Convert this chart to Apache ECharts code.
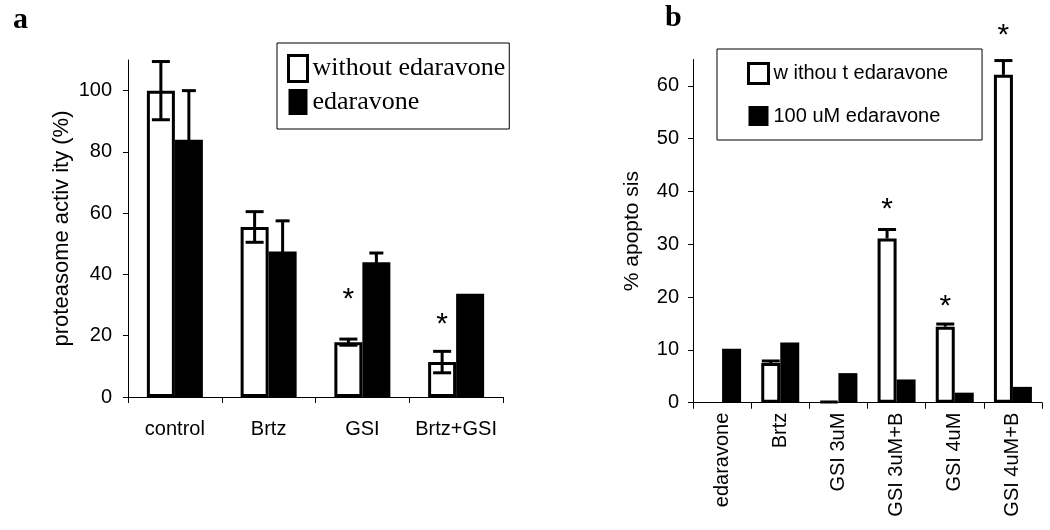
<!DOCTYPE html>
<html>
<head>
<meta charset="utf-8">
<script src="https://cdn.jsdelivr.net/npm/echarts@6/dist/echarts.min.js"></script>
<style>html,body{margin:0;padding:0;background:#fff;}#c{width:1050px;height:530px;}</style>
</head>
<body>
<div id="c"></div>
<script>
// ---------- Panel a data ----------
const catsA = ['control', 'Brtz', 'GSI', 'Brtz+GSI'];
const withoutA = [100, 55.5, 17.9, 11.4];
const withoutErrA = [9.5, 5, 1, 3.5];
const edaA = [84, 47.5, 44, 33.7];
const edaErrA = [16, 10, 3, 0];
const starsA = [null, null, 33.5, 25.3];
const yTicksA = [0, 20, 40, 60, 80, 100];

// ---------- Panel b data ----------
const catsB = ['edaravone', 'Brtz', 'GSI 3uM', 'GSI 3uM+B', 'GSI 4uM', 'GSI 4uM+B'];
const withoutB = [null, 7.5, 0.3, 31.1, 14.4, 62.1];
const withoutErrB = [0, 0.4, 0, 1.7, 0.5, 2.7];
const edaB = [10.2, 11.4, 5.6, 4.4, 1.9, 3.0];
const starsB = [null, null, null, 37.5, 19.2, 70.5];
const yTicksB = [0, 10, 20, 30, 40, 50, 60];

const SANS = "'Liberation Sans', Arial, sans-serif";
const SERIF = "'Liberation Serif', 'Times New Roman', serif";
const BW_A = 28, BW_B = 19;

function errData(vals, errs, side) {
  const out = [];
  vals.forEach((v, i) => { if (v != null && errs[i] > 0) out.push([i, v, errs[i], side]); });
  return out;
}
function starData(arr) {
  const out = [];
  arr.forEach((v, i) => { if (v != null) out.push([i, v]); });
  return out;
}
function errRender(bw, both, cap) {
  return function (params, api) {
    const i = api.value(0), v = api.value(1), e = api.value(2), side = api.value(3);
    const c = api.coord([i, v]);
    const x = c[0] + side * bw / 2;
    const top = api.coord([i, v + e])[1];
    const bot = both ? api.coord([i, v - e])[1] : c[1];
    const st = { stroke: '#000', lineWidth: 3 };
    const children = [
      { type: 'line', shape: { x1: x, y1: top, x2: x, y2: bot }, style: st },
      { type: 'line', shape: { x1: x - cap / 2, y1: top, x2: x + cap / 2, y2: top }, style: st }
    ];
    if (both) children.push({ type: 'line', shape: { x1: x - cap / 2, y1: bot, x2: x + cap / 2, y2: bot }, style: st });
    return { type: 'group', children: children };
  };
}
function starRender(bw) {
  return function (params, api) {
    const c = api.coord([api.value(0), api.value(1)]);
    return { type: 'text', x: c[0] - bw / 2, y: c[1] + 5,
      style: { text: '*', fontSize: 30, fontFamily: SANS, fill: '#000', align: 'center', verticalAlign: 'middle' } };
  };
}

const whiteStyle = { color: '#fff', borderColor: '#000', borderWidth: 3 };
const blackStyle = { color: '#000' };

const option = {
  animation: false,
  backgroundColor: '#fff',
  title: [
    { text: 'a', left: 8, top: 0, textStyle: { fontFamily: SERIF, fontWeight: 'bold', fontSize: 30, color: '#000' } },
    { text: 'b', left: 660, top: -2, textStyle: { fontFamily: SERIF, fontWeight: 'bold', fontSize: 30, color: '#000' } }
  ],
  legend: [
    {
      orient: 'vertical', left: 277, top: 43, padding: [11, 4, 14, 10], itemGap: 6,
      itemWidth: 19, itemHeight: 26, borderColor: '#000', borderWidth: 1,
      textStyle: { fontFamily: SERIF, fontSize: 26, color: '#000', lineHeight: 26 },
      data: [
        { name: 'without edaravone', icon: 'rect', itemStyle: whiteStyle },
        { name: 'edaravone', icon: 'rect', itemStyle: blackStyle }
      ]
    },
    {
      orient: 'vertical', left: 717, top: 49, padding: [13, 34, 14, 30], itemGap: 21,
      itemWidth: 20, itemHeight: 20, borderColor: '#000', borderWidth: 1,
      textStyle: { fontFamily: SANS, fontSize: 20, color: '#000' },
      data: [
        { name: 'w ithou t edaravone', icon: 'rect', itemStyle: whiteStyle },
        { name: '100 uM edaravone', icon: 'rect', itemStyle: blackStyle }
      ]
    }
  ],
  grid: [
    { left: 128, width: 375, top: 60, height: 337 },
    { left: 693, width: 349, top: 59.5, height: 343.2 }
  ],
  xAxis: [
    { gridIndex: 0, type: 'category', data: catsA,
      axisLine: { lineStyle: { color: '#000', width: 1 } },
      axisTick: { show: true, length: 6, lineStyle: { color: '#000' } },
      axisLabel: { interval: 0, margin: 22, fontSize: 20, fontFamily: SANS, color: '#000' } },
    { gridIndex: 1, type: 'category', data: catsB,
      axisLine: { lineStyle: { color: '#000', width: 1 } },
      axisTick: { show: true, length: 6, lineStyle: { color: '#000' } },
      axisLabel: { interval: 0, margin: 10, rotate: 90, fontSize: 20, fontFamily: SANS, color: '#000' } }
  ],
  yAxis: [
    { gridIndex: 0, type: 'value', min: 0, max: 110,
      name: 'proteasome activ ity (%)', nameLocation: 'middle', nameRotate: 90, nameGap: 55,
      nameTextStyle: { fontFamily: SANS, fontSize: 22, color: '#000' },
      axisLine: { show: true, lineStyle: { color: '#000', width: 1 } },
      axisTick: { show: true, length: 5, customValues: yTicksA, lineStyle: { color: '#000' } },
      axisLabel: { margin: 16, fontSize: 20, fontFamily: SANS, color: '#000', customValues: yTicksA },
      splitLine: { show: false } },
    { gridIndex: 1, type: 'value', min: 0, max: 65,
      name: '% apopto sis', nameLocation: 'middle', nameRotate: 90, nameGap: 50,
      nameTextStyle: { fontFamily: SANS, fontSize: 21, color: '#000' },
      axisLine: { show: true, lineStyle: { color: '#000', width: 1 } },
      axisTick: { show: true, length: 5, customValues: yTicksB, lineStyle: { color: '#000' } },
      axisLabel: { margin: 14, fontSize: 20, fontFamily: SANS, color: '#000', customValues: yTicksB },
      splitLine: { show: false } }
  ],
  series: [
    { name: 'without edaravone', type: 'bar', xAxisIndex: 0, yAxisIndex: 0, data: withoutA,
      barWidth: BW_A, barGap: '0%', itemStyle: whiteStyle },
    { name: 'edaravone', type: 'bar', xAxisIndex: 0, yAxisIndex: 0, data: edaA,
      barWidth: BW_A, barGap: '0%', itemStyle: blackStyle },
    { type: 'custom', xAxisIndex: 0, yAxisIndex: 0, data: errData(withoutA, withoutErrA, -1),
      renderItem: errRender(BW_A, true, 18), z: 5, clip: false },
    { type: 'custom', xAxisIndex: 0, yAxisIndex: 0, data: errData(edaA, edaErrA, 1),
      renderItem: errRender(BW_A, true, 14), z: 5, clip: false },
    { type: 'custom', xAxisIndex: 0, yAxisIndex: 0, data: starData(starsA),
      renderItem: starRender(BW_A), z: 5, clip: false },

    { name: 'w ithou t edaravone', type: 'bar', xAxisIndex: 1, yAxisIndex: 1, data: withoutB,
      barWidth: BW_B, barGap: '0%', itemStyle: whiteStyle },
    { name: '100 uM edaravone', type: 'bar', xAxisIndex: 1, yAxisIndex: 1, data: edaB,
      barWidth: BW_B, barGap: '0%', itemStyle: blackStyle },
    { type: 'custom', xAxisIndex: 1, yAxisIndex: 1, data: errData(withoutB, withoutErrB, -1),
      renderItem: errRender(BW_B, false, 18), z: 5, clip: false },
    { type: 'custom', xAxisIndex: 1, yAxisIndex: 1, data: starData(starsB),
      renderItem: starRender(BW_B), z: 5, clip: false }
  ]
};
const chart = echarts.init(document.getElementById('c'), null, { renderer: 'canvas' });
chart.setOption(option);
</script>
</body>
</html>
